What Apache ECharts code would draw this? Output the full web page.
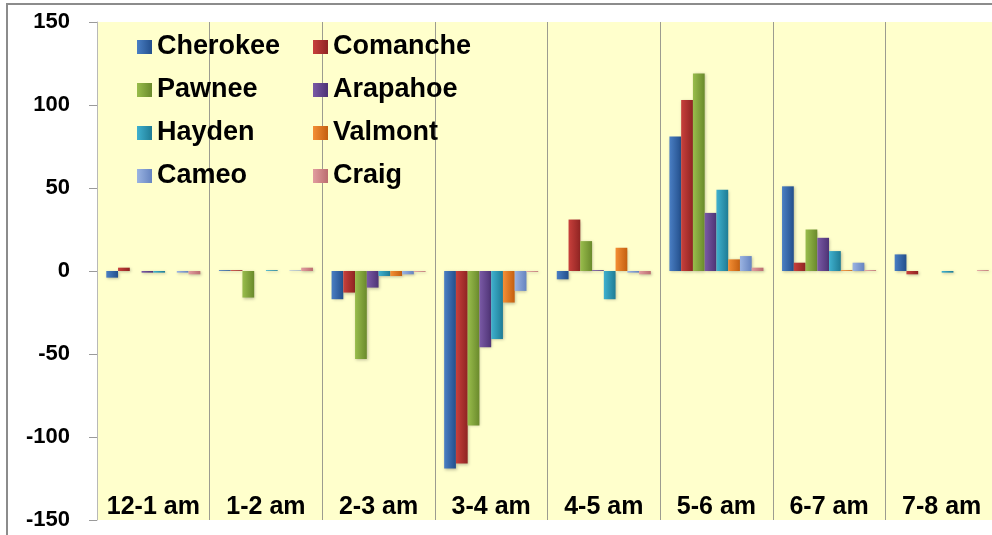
<!DOCTYPE html>
<html>
<head>
<meta charset="utf-8">
<title>Hourly change by plant</title>
<script src="https://cdn.jsdelivr.net/npm/echarts@6/dist/echarts.min.js"></script>
<style>
  html, body { margin: 0; padding: 0; background: #fff; }
  #chart { width: 992px; height: 535px; }
</style>
</head>
<body>
<div id="chart"></div>
<script>
// categories along the bottom
var hours = ['12-1 am', '1-2 am', '2-3 am', '3-4 am', '4-5 am', '5-6 am', '6-7 am', '7-8 am'];

// one array per plant
var cherokee = [-4, 0.5, -17, -119, -5, 81, 51, 10];
var comanche = [2, 0.5, -13, -116, 31, 103, 5, -2];
var pawnee   = [0, -16, -53, -93, 18, 119, 25, 0];
var arapahoe = [-1, 0, -10, -46, 0.5, 35, 20, 0];
var hayden   = [-1, 0.5, -3, -41, -17, 49, 12, -1];
var valmont  = [0, 0, -3, -19, 14, 7, 0.5, 0];
var cameo    = [-1, 0.3, -2, -12, -1, 9, 5, 0];
var craig    = [-2, 2, -0.5, -0.5, -2, 2, 0.5, 0.5];

var yTicks = [-150, -100, -50, 0, 50, 100, 150];

var plants = [
  { name: 'Cherokee', data: cherokee, light: '#4a7fc4', dark: '#234f8c' },
  { name: 'Comanche', data: comanche, light: '#c8403c', dark: '#8f2422' },
  { name: 'Pawnee',   data: pawnee,   light: '#99bd4c', dark: '#6a8a2c' },
  { name: 'Arapahoe', data: arapahoe, light: '#7a5aa6', dark: '#4e3375' },
  { name: 'Hayden',   data: hayden,   light: '#3fb1cf', dark: '#1f7c95' },
  { name: 'Valmont',  data: valmont,  light: '#f48f35', dark: '#c45f10' },
  { name: 'Cameo',    data: cameo,    light: '#9bb4e2', dark: '#6684c0' },
  { name: 'Craig',    data: craig,    light: '#e29d9f', dark: '#bb6d70' }
];

var font = 'Arial, "Liberation Sans", sans-serif';

var series = plants.map(function (p) {
  return {
    name: p.name,
    type: 'bar',
    barGap: 0,
    barCategoryGap: '16.5%',
    itemStyle: {
      color: new echarts.graphic.LinearGradient(0, 0, 1, 0, [
        { offset: 0, color: p.light },
        { offset: 1, color: p.dark }
      ]),
      shadowColor: 'rgba(0,0,0,0.25)',
      shadowBlur: 3,
      shadowOffsetX: 1,
      shadowOffsetY: 1
    },
    data: p.data
  };
});

function legendCol (names, left) {
  return {
    data: names.map(function (n) {
      var p = plants.filter(function (q) { return q.name === n; })[0];
      return {
        name: n,
        itemStyle: {
          color: new echarts.graphic.LinearGradient(0, 0, 1, 0, [
            { offset: 0, color: p.light },
            { offset: 1, color: p.dark }
          ])
        }
      };
    }),
    orient: 'vertical',
    left: left,
    top: 33,
    padding: 0,
    itemGap: 15,
    itemWidth: 15,
    itemHeight: 14,
    icon: 'rect',
    selectedMode: false,
    textStyle: {
      fontFamily: font,
      fontWeight: 'bold',
      fontSize: 27,
      lineHeight: 28,
      color: '#000'
    }
  };
}

var chart = echarts.init(document.getElementById('chart'), null, { renderer: 'canvas' });

chart.setOption({
  backgroundColor: '#fff',
  animation: false,
  graphic: [{
    type: 'rect',
    shape: { x: 7, y: 4, width: 1000, height: 600 },
    style: { fill: 'none', stroke: '#8c8c8c', lineWidth: 2 },
    silent: true,
    z: -1
  }],
  legend: [
    legendCol(['Cherokee', 'Pawnee', 'Hayden', 'Cameo'], 137),
    legendCol(['Comanche', 'Arapahoe', 'Valmont', 'Craig'], 313)
  ],
  grid: {
    left: 97,
    top: 22,
    width: 901,
    height: 498,
    containLabel: false,
    outerBoundsMode: 'none',
    show: true,
    backgroundColor: '#FFFFCC',
    borderWidth: 0
  },
  xAxis: {
    type: 'category',
    data: hours,
    position: 'bottom',
    axisLine: { show: false },
    axisTick: { show: false },
    splitLine: {
      show: true,
      lineStyle: { color: '#9c9c90', width: 1 }
    },
    axisLabel: {
      inside: true,
      margin: 0,
      interval: 0,
      fontFamily: font,
      fontWeight: 'bold',
      fontSize: 25,
      color: '#000'
    }
  },
  yAxis: {
    type: 'value',
    min: yTicks[0],
    max: yTicks[yTicks.length - 1],
    interval: 50,
    axisLine: { show: true, lineStyle: { color: '#b8b8b8' } },
    axisTick: { show: true, length: 8, lineStyle: { color: '#9a9a9a' } },
    splitLine: { show: false },
    axisLabel: {
      margin: 27,
      fontFamily: font,
      fontWeight: 'bold',
      fontSize: 22,
      color: '#000'
    }
  },
  series: series
});
</script>
</body>
</html>
